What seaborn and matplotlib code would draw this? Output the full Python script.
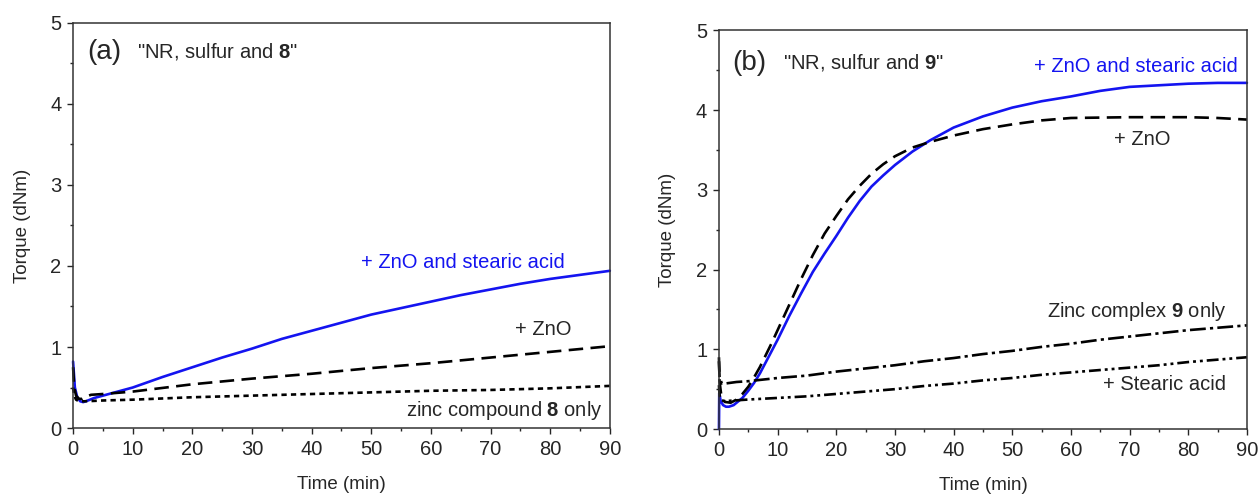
import numpy as np
import pandas as pd
import seaborn as sns
import matplotlib.pyplot as plt
from matplotlib.ticker import MultipleLocator

# Panel (a): NR, sulfur and 8
a_t_full = [0, 0.3, 0.7, 1.2, 1.7, 2.5, 3.5, 5, 7.5, 10, 15, 20, 25, 30, 35, 40,
            45, 50, 55, 60, 65, 70, 75, 80, 85, 90]
a_full = [0.82, 0.5, 0.38, 0.33, 0.32, 0.34, 0.37, 0.4, 0.45, 0.5, 0.63, 0.75, 0.87,
          0.98, 1.1, 1.2, 1.3, 1.4, 1.48, 1.56, 1.64, 1.71, 1.78, 1.84, 1.89, 1.94]
a_t_zno = [0, 0.2, 0.5, 1, 1.5, 2, 3, 5, 10, 20, 30, 40, 50, 60, 70, 80, 90]
a_zno = [0.75, 0.5, 0.4, 0.36, 0.36, 0.38, 0.41, 0.42, 0.45, 0.54, 0.61, 0.67, 0.74,
         0.8, 0.87, 0.94, 1.01]
a_t_only = [0, 0.2, 0.5, 1, 2, 5, 10, 20, 30, 40, 50, 60, 70, 80, 90]
a_only = [0.5, 0.4, 0.35, 0.33, 0.33, 0.34, 0.35, 0.38, 0.4, 0.42, 0.44, 0.46, 0.47,
          0.49, 0.52]

# Panel (b): NR, sulfur and 9
b_t_full = [0, 0.05, 0.3, 0.7, 1.2, 1.7, 2.5, 3, 4, 5, 6, 7, 8, 9, 10, 12, 14, 16, 18,
            20, 22, 24, 26, 28, 30, 33, 36, 40, 45, 50, 55, 60, 65, 70, 75, 80, 85, 90]
b_full = [0, 0.45, 0.35, 0.3, 0.28, 0.28, 0.3, 0.33, 0.39, 0.48, 0.58, 0.7, 0.84, 0.98,
          1.12, 1.42, 1.7, 1.97, 2.2, 2.42, 2.65, 2.86, 3.04, 3.18, 3.31, 3.48, 3.62,
          3.78, 3.92, 4.03, 4.11, 4.17, 4.24, 4.29, 4.31, 4.33, 4.34, 4.34]
b_t_zno = [0, 0.1, 0.4, 1, 2, 3, 4, 5, 6, 7, 8, 9, 10, 12, 14, 16, 18, 20, 22, 24, 26,
           28, 30, 33, 36, 40, 45, 50, 55, 60, 70, 80, 85, 90]
b_zno = [0.9, 0.6, 0.42, 0.34, 0.33, 0.37, 0.44, 0.53, 0.65, 0.78, 0.93, 1.08, 1.24,
         1.56, 1.88, 2.18, 2.45, 2.67, 2.88, 3.05, 3.2, 3.32, 3.42, 3.53, 3.6, 3.68,
         3.76, 3.82, 3.87, 3.9, 3.91, 3.91, 3.9, 3.88]
b_t_slow = [0, 0.1, 0.5, 1, 3, 5, 10, 15, 20, 25, 30, 35, 40, 45, 50, 55, 60, 65, 70,
            75, 80, 85, 90]
b_only = [0.85, 0.65, 0.57, 0.57, 0.59, 0.6, 0.64, 0.67, 0.72, 0.76, 0.8, 0.85, 0.89,
          0.94, 0.98, 1.03, 1.07, 1.12, 1.16, 1.2, 1.24, 1.27, 1.3]
b_stearic = [0.55, 0.42, 0.36, 0.35, 0.36, 0.37, 0.39, 0.41, 0.44, 0.47, 0.5, 0.54,
             0.57, 0.61, 0.64, 0.68, 0.71, 0.74, 0.77, 0.8, 0.84, 0.87, 0.9]

BLUE = '#1414f0'

sns.set_style('ticks')
plt.rcParams['font.family'] = ['Liberation Sans', 'DejaVu Sans']
plt.rcParams['mathtext.fontset'] = 'custom'
plt.rcParams['mathtext.rm'] = 'Liberation Sans'
plt.rcParams['mathtext.bf'] = 'Liberation Sans:bold'

fig = plt.figure(figsize=(12.6, 4.96), dpi=100)
ax1 = fig.add_axes([0.058, 0.137, 0.426, 0.817])
ax2 = fig.add_axes([0.5706, 0.135, 0.419, 0.804])


def draw(ax, t, y, color, dashes):
    df = pd.DataFrame({'t': t, 'y': y})
    sns.lineplot(data=df, x='t', y='y', ax=ax, color=color, lw=1.9, sort=False)
    line = ax.get_lines()[-1]
    if dashes is not None:
        line.set_dashes(dashes)
    line.set_clip_on(False)


draw(ax1, a_t_full, a_full, BLUE, None)
draw(ax1, a_t_zno, a_zno, 'black', (5.5, 2.8))
draw(ax1, a_t_only, a_only, 'black', (2.0, 1.6))

draw(ax2, b_t_full, b_full, BLUE, None)
draw(ax2, b_t_zno, b_zno, 'black', (5.5, 2.8))
draw(ax2, b_t_slow, b_only, 'black', (6.0, 1.6, 1.2, 1.6))
draw(ax2, b_t_slow, b_stearic, 'black', (4.5, 1.5, 1.1, 1.5, 1.1, 1.5))

for ax in (ax1, ax2):
    ax.set_xlim(0, 90)
    ax.set_ylim(0, 5)
    ax.xaxis.set_major_locator(MultipleLocator(10))
    ax.xaxis.set_minor_locator(MultipleLocator(5))
    ax.yaxis.set_major_locator(MultipleLocator(1))
    ax.yaxis.set_minor_locator(MultipleLocator(0.5))
    ax.tick_params(which='major', direction='out', length=4.5, width=1.0,
                   labelsize=14.5, pad=4)
    ax.tick_params(which='minor', direction='out', length=2.5, width=1.0)
    for s in ax.spines.values():
        s.set_visible(True)
        s.set_linewidth(1.1)
        s.set_color('#333333')
    ax.set_xlabel('Time (min)', fontsize=13.5, labelpad=12)
    ax.set_ylabel('Torque (dNm)', fontsize=13.5, labelpad=14)

ax1.text(2.3, 4.64, '(a)', fontsize=20, va='center')
ax1.text(10.8, 4.64, '"NR, sulfur and $\\mathbf{8}$"', fontsize=14.5, va='center')
ax1.text(82.4, 2.04, '+ ZnO and stearic acid', fontsize=14.5, color=BLUE,
         ha='right', va='center')
ax1.text(83.6, 1.21, '+ ZnO', fontsize=14.5, ha='right', va='center')
ax1.text(88.8, 0.22, 'zinc compound $\\mathbf{8}$ only', fontsize=14.5,
         ha='right', va='center')

ax2.text(2.3, 4.59, '(b)', fontsize=20, va='center')
ax2.text(10.9, 4.59, '"NR, sulfur and $\\mathbf{9}$"', fontsize=14.5, va='center')
ax2.text(88.4, 4.55, '+ ZnO and stearic acid', fontsize=14.5, color=BLUE,
         ha='right', va='center')
ax2.text(77.0, 3.63, '+ ZnO', fontsize=14.5, ha='right', va='center')
ax2.text(86.5, 1.47, 'Zinc complex $\\mathbf{9}$ only', fontsize=14.5,
         ha='right', va='center')
ax2.text(86.5, 0.56, '+ Stearic acid', fontsize=14.5, ha='right', va='center')

fig.savefig('out.png', dpi=100)
